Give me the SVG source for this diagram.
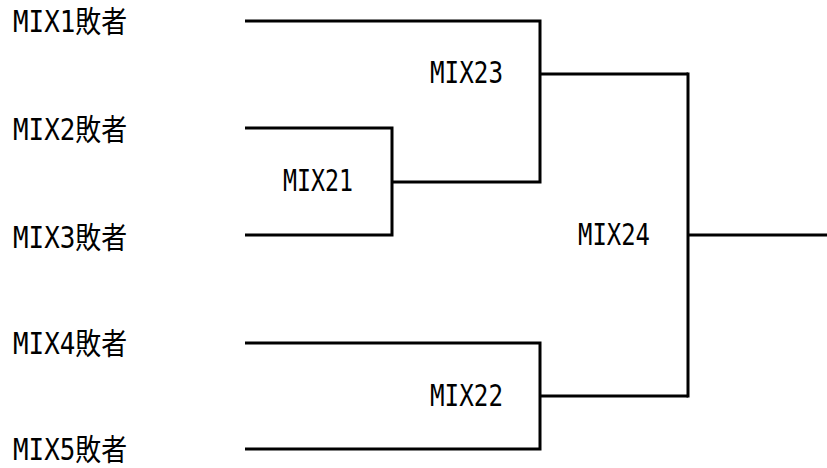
<svg xmlns="http://www.w3.org/2000/svg" width="827" height="468" viewBox="0 0 827 468">
<style>
.t{font-family:"DejaVu Sans Mono","Noto Sans CJK JP",monospace;font-size:30px;fill:#000}
.c{fill:none;stroke:#000;stroke-width:3}
</style>
<rect width="827" height="468" fill="#fff"/>
<g id="connectors">
<polyline class="c" points="245,21 540,21 540,182 392,182"/>
<polyline class="c" points="245,128 392,128 392,235 245,235"/>
<line class="c" x1="540" y1="74" x2="688" y2="74"/>
<polyline class="c" points="245,343 540,343 540,449 245,449"/>
<line class="c" x1="540" y1="396" x2="688" y2="396"/>
<line class="c" x1="688" y1="72.5" x2="688" y2="397.5"/>
<line class="c" x1="688" y1="235" x2="827" y2="235"/>
</g>
<g id="mix1"><text class="t" x="13" y="32" textLength="114" lengthAdjust="spacingAndGlyphs">MIX1敗者</text></g>
<g id="mix2"><text class="t" x="13" y="140" textLength="114" lengthAdjust="spacingAndGlyphs">MIX2敗者</text></g>
<g id="mix3"><text class="t" x="13" y="248" textLength="114" lengthAdjust="spacingAndGlyphs">MIX3敗者</text></g>
<g id="mix4"><text class="t" x="13" y="354" textLength="114" lengthAdjust="spacingAndGlyphs">MIX4敗者</text></g>
<g id="mix5"><text class="t" x="13" y="460" textLength="114" lengthAdjust="spacingAndGlyphs">MIX5敗者</text></g>
<g id="mix21"><text class="t" x="283" y="191" textLength="70" lengthAdjust="spacingAndGlyphs">MIX21</text></g>
<g id="mix22"><text class="t" x="430" y="406" textLength="73" lengthAdjust="spacingAndGlyphs">MIX22</text></g>
<g id="mix23"><text class="t" x="430" y="83" textLength="73" lengthAdjust="spacingAndGlyphs">MIX23</text></g>
<g id="mix24"><text class="t" x="578" y="245" textLength="72" lengthAdjust="spacingAndGlyphs">MIX24</text></g>
</svg>
